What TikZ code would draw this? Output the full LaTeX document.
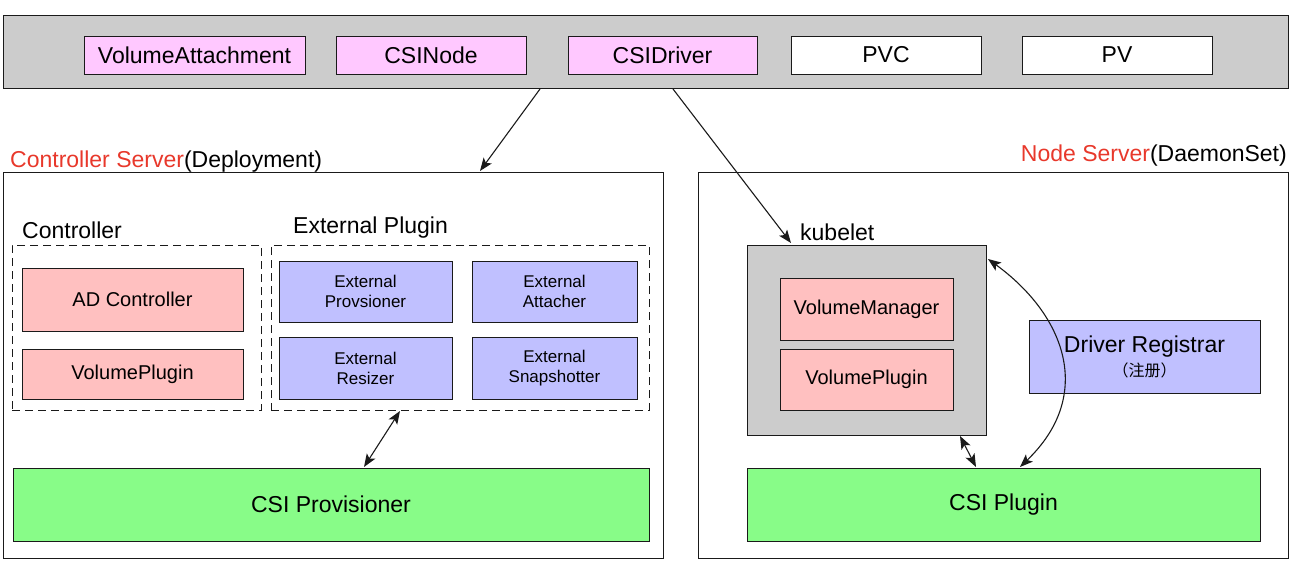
\documentclass[tikz,border=0pt]{standalone}
\usepackage{fontspec}
\setmainfont{Liberation Sans}
\newfontfamily\cjk{Noto Sans CJK SC}
\usetikzlibrary{arrows.meta}
\definecolor{pinkc}{HTML}{FFC8FF}
\definecolor{salmonc}{HTML}{FFC0C0}
\definecolor{bluec}{HTML}{C0C0FF}
\definecolor{greenc}{HTML}{88FC88}
\definecolor{grayc}{HTML}{CCCCCC}
\definecolor{redc}{HTML}{E8382B}
\definecolor{linec}{HTML}{1A1A1A}
\tikzset{
  bx/.style={draw=linec, line width=1pt, inner sep=0pt, align=center, font=\fontsize{23}{26}\selectfont},
  pinkbox/.style={bx, fill=pinkc},
  whitebox/.style={bx, fill=white},
  salbox/.style={bx, fill=salmonc, font=\fontsize{20}{24}\selectfont},
  bluebox/.style={bx, fill=bluec, font=\fontsize{17}{20}\selectfont},
  greenbox/.style={bx, fill=greenc},
  graybox/.style={draw=linec, line width=1pt, fill=grayc},
  frame/.style={draw=linec, line width=1pt},
  dashbox/.style={draw=linec, line width=1pt, dash pattern=on 8pt off 5pt},
  lbl/.style={inner sep=0pt, font=\fontsize{23}{26}\selectfont},
  tip/.tip={Stealth[length=13pt,width=10pt,inset=3pt]},
  arr/.style={line width=1.1pt, draw=linec, -tip},
  darr/.style={line width=1.1pt, draw=linec, tip-tip},
}
\begin{document}
\begin{tikzpicture}[x=1pt,y=-1pt]
\useasboundingbox (0,0) rectangle (1294,562);
% top bar
\node[graybox, minimum width=1285pt, minimum height=73pt, inner sep=0pt] (top) at (645.5,51.5) {};
\node[pinkbox, minimum width=221pt, minimum height=38pt] (va) at (194.5,55) {VolumeAttachment};
\node[pinkbox, minimum width=190pt, minimum height=38pt] (csinode) at (431,55) {CSINode};
\node[pinkbox, minimum width=189pt, minimum height=38pt] (csidriver) at (662.5,55) {CSIDriver};
\node[whitebox, minimum width=190pt, minimum height=38pt] (pvc) at (886,55) {PVC};
\node[whitebox, minimum width=190pt, minimum height=38pt] (pv) at (1117,55) {PV};

% server frames
\node[frame, minimum width=660pt, minimum height=386pt, inner sep=0pt] (left) at (333,365) {};
\node[frame, minimum width=590pt, minimum height=386pt, inner sep=0pt] (right) at (993,365) {};
\node[lbl, anchor=base west] (cslbl) at (10,167) {\textcolor{redc}{Controller Server}(Deployment)};
\node[lbl, anchor=base east] (nslbl) at (1287,161) {\textcolor{redc}{Node Server}(DaemonSet)};

% controller group
\node[dashbox, minimum width=249pt, minimum height=165pt, inner sep=0pt] (ctrl) at (136.5,327.5) {};
\node[lbl, anchor=base west] (ctrllbl) at (22,238) {Controller};
\node[salbox, minimum width=221pt, minimum height=63pt] (adc) at (132.5,299.5) {AD Controller};
\node[salbox, minimum width=221pt, minimum height=50pt] (vpl) at (132.5,374) {VolumePlugin};

% external plugin group
\node[dashbox, minimum width=378pt, minimum height=165pt, inner sep=0pt] (ext) at (460,327.5) {};
\node[lbl, anchor=base west] (extlbl) at (293,233) {External Plugin};
\node[bluebox, minimum width=173pt, minimum height=61pt] (eprov) at (365.5,291.5) {External\\Provsioner};
\node[bluebox, minimum width=165pt, minimum height=61pt] (eatt) at (554.5,291.5) {External\\Attacher};
\node[bluebox, minimum width=173pt, minimum height=62pt] (eres) at (365.5,368) {External\\Resizer};
\node[bluebox, minimum width=165pt, minimum height=62pt] (esnap) at (554.5,368) {External\\Snapshotter};

\node[greenbox, minimum width=636pt, minimum height=73pt] (csiprov) at (331,504.5) {CSI Provisioner};

% node server
\node[graybox, minimum width=239pt, minimum height=190pt, inner sep=0pt] (kubelet) at (866.5,340) {};
\node[lbl, anchor=base west] (kublbl) at (800,240) {kubelet};
\node[salbox, minimum width=173pt, minimum height=62pt] (vm) at (866.5,309) {VolumeManager};
\node[salbox, minimum width=173pt, minimum height=61pt] (vpr) at (866.5,379.5) {VolumePlugin};
\node[bx, fill=bluec, minimum width=231pt, minimum height=73pt] (dr) at (1144.5,356.5) {Driver Registrar\\[-2pt]{\cjk\fontsize{16}{18}\selectfont （注册）}};
\node[greenbox, minimum width=513pt, minimum height=73pt] (csiplug) at (1003.5,504.5) {CSI Plugin};

% connectors
\coordinate (a1s) at (540,89);
\coordinate (a1e) at (480,171);
\draw[arr] (a1s) -- (a1e);
\coordinate (a2s) at (673,89);
\coordinate (a2e) at (791,243);
\draw[arr] (a2s) -- (a2e);
\coordinate (d1s) at (400,411);
\coordinate (d1e) at (364,467);
\draw[darr] (d1s) -- (d1e);
\coordinate (d2s) at (960,436);
\coordinate (d2e) at (976,467);
\draw[darr] (d2s) -- (d2e);
\coordinate (c1s) at (988,259);
\coordinate (c1e) at (1020,467);
\draw[darr] (c1s) .. controls (1065,315) and (1095,395) .. (c1e);
\end{tikzpicture}
\end{document}
